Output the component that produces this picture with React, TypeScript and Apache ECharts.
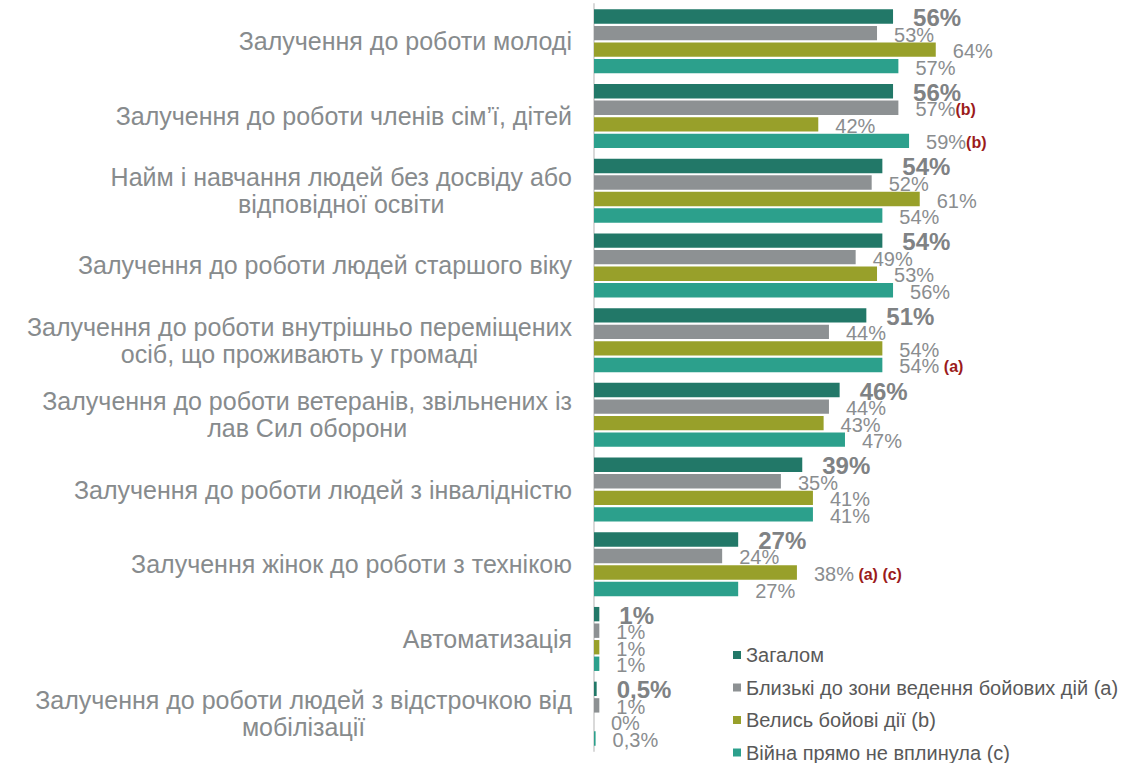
import React, { useEffect, useRef } from "react";
import * as echarts from "echarts";

const categories = [
  "Залучення до роботи молоді",
  "Залучення до роботи членів сім’ї, дітей",
  "Найм і навчання людей без досвіду або\nвідповідної освіти",
  "Залучення до роботи людей старшого віку",
  "Залучення до роботи внутрішньо переміщених\nосіб, що проживають у громаді",
  "Залучення до роботи ветеранів, звільнених із\nлав Сил оборони",
  "Залучення до роботи людей з інвалідністю",
  "Залучення жінок до роботи з технікою",
  "Автоматизація",
  "Залучення до роботи людей з відстрочкою від\nмобілізації",
];

const seriesNames = [
  "Загалом",
  "Близькі до зони ведення бойових дій (a)",
  "Велись бойові дії (b)",
  "Війна прямо не вплинула (c)",
];

const totalValues = [56, 56, 54, 54, 51, 46, 39, 27, 1, 0.5];
const nearFrontValues = [53, 57, 52, 49, 44, 44, 35, 24, 1, 1];
const combatValues = [64, 42, 61, 53, 54, 43, 41, 38, 1, 0];
const notAffectedValues = [57, 59, 54, 56, 54, 47, 41, 27, 1, 0.3];

const totalNotes = ["", "", "", "", "", "", "", "", "", ""];
const nearFrontNotes = ["", "(b)", "", "", "", "", "", "", "", ""];
const combatNotes = ["", "", "", "", "", "", "", " (a) (c)", "", ""];
const notAffectedNotes = ["", "(b)", "", "", " (a)", "", "", "", "", ""];

const colors = ["#227868", "#8D9193", "#98A02A", "#2CA08C"];

const FONT = "'Liberation Sans', Arial, sans-serif";

export default function App() {
  const ref = useRef<HTMLDivElement>(null);

  useEffect(() => {
    if (!ref.current) return;
    const chart = echarts.init(ref.current, undefined, { renderer: "svg" });

    const valueSets = [totalValues, nearFrontValues, combatValues, notAffectedValues];
    const noteSets = [totalNotes, nearFrontNotes, combatNotes, notAffectedNotes];

    const series = seriesNames.map((name, si) => ({
      name,
      type: "bar",
      data: valueSets[si],
      barGap: "15%",
      barCategoryGap: "14.3%",
      itemStyle: { color: colors[si] },
      label: {
        show: true,
        position: "right",
        distance: si === 0 ? 20 : 17,
        offset: [0, si === 0 ? 1 : 1.5],
        formatter: (p: any) => {
          const txt = String(p.value).replace(".", ",") + "%";
          const note = noteSets[si][p.dataIndex];
          const main = si === 0 ? `{b|${txt}}` : `{v|${txt}}`;
          return note ? `${main}{n|${note}}` : main;
        },
        rich: {
          b: { fontFamily: FONT, fontSize: 24, fontWeight: "bold", color: "#7F8284" },
          v: { fontFamily: FONT, fontSize: 20, color: "#8A8D8F" },
          n: { fontFamily: FONT, fontSize: 16, fontWeight: "bold", color: "#9B1B1B" },
        },
      },
    }));

    chart.setOption({
      animation: false,
      textStyle: { fontFamily: FONT },
      grid: { left: 594, top: 4, width: 427.2, height: 747, containLabel: false },
      legend: {
        orient: "vertical",
        left: 733,
        top: 645,
        height: 160,
        padding: 0,
        itemWidth: 8,
        itemHeight: 8,
        itemGap: 12.5,
        icon: "rect",
        data: seriesNames,
        textStyle: { fontFamily: FONT, fontSize: 20, color: "#595959", lineHeight: 20 },
      },
      xAxis: {
        type: "value",
        min: 0,
        max: 80,
        show: false,
      },
      yAxis: {
        type: "category",
        data: categories,
        inverse: true,
        axisLine: { show: true, lineStyle: { color: "#D9D9D9", width: 2 } },
        axisTick: { show: false },
        axisLabel: {
          margin: 22,
          align: "right",
          formatter: (v: string) =>
            v
              .split("\n")
              .map((l) => `{c|${l}}`)
              .join("\n"),
          rich: {
            c: {
              align: "center",
              fontFamily: FONT,
              fontSize: 25,
              lineHeight: 27,
              color: "#878B8D",
            },
          },
        },
      },
      series,
    });

    return () => chart.dispose();
  }, []);

  return (
    <div
      ref={ref}
      style={{ position: "fixed", left: 0, top: 0, width: 1125, height: 763, background: "#fff" }}
    />
  );
}
